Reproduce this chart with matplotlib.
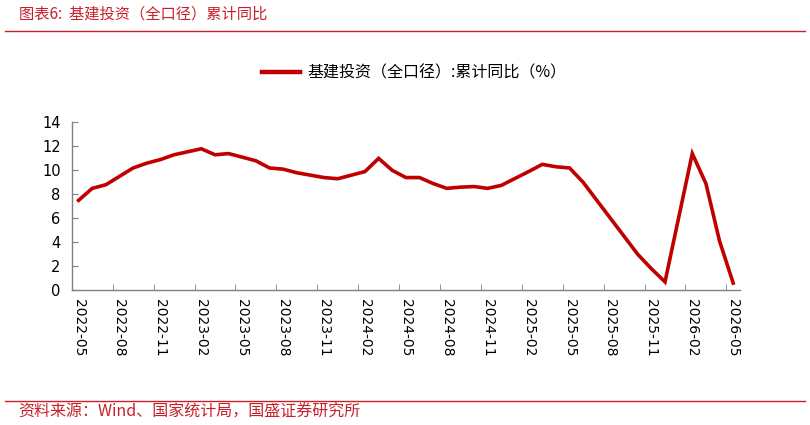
import numpy as np
import pandas as pd
import matplotlib
matplotlib.use("Agg")
import matplotlib.pyplot as plt
from matplotlib.lines import Line2D

plt.rcParams['font.family'] = ['Noto Sans CJK SC', 'DejaVu Sans']

# monthly cumulative yoy, January not published (Jan-Feb combined)
months = ['2022-05', '2022-06', '2022-07', '2022-08', '2022-09', '2022-10', '2022-11', '2022-12',
          '2023-02', '2023-03', '2023-04', '2023-05', '2023-06', '2023-07', '2023-08', '2023-09',
          '2023-10', '2023-11', '2023-12',
          '2024-02', '2024-03', '2024-04', '2024-05', '2024-06', '2024-07', '2024-08', '2024-09',
          '2024-10', '2024-11', '2024-12',
          '2025-02', '2025-03', '2025-04', '2025-05', '2025-06', '2025-07', '2025-08', '2025-09',
          '2025-10', '2025-11', '2025-12',
          '2026-02', '2026-03', '2026-04', '2026-05']
values = [7.5, 8.5, 8.8, 9.5, 10.2, 10.6, 10.9, 11.3,
          11.8, 11.3, 11.4, 11.1, 10.8, 10.2, 10.1, 9.8,
          9.6, 9.4, 9.3,
          9.9, 11.0, 10.0, 9.4, 9.4, 8.9, 8.5, 8.6,
          8.65, 8.5, 8.75,
          9.9, 10.5, 10.3, 10.2, 9.0, 7.5, 6.0, 4.5,
          3.0, 1.8, 0.7,
          11.4, 8.9, 4.1, 0.6]
tick_labels = ['2022-05', '2022-08', '2022-11', '2023-02', '2023-05', '2023-08', '2023-11',
               '2024-02', '2024-05', '2024-08', '2024-11', '2025-02', '2025-05', '2025-08',
               '2025-11', '2026-02', '2026-05']

series_name = '基建投资（全口径）:累计同比（%）'
title = '图表6:  基建投资（全口径）累计同比'
source = '资料来源：Wind、国家统计局，国盛证券研究所'

RED = '#c00000'
TXT_RED = '#c8202a'
GRAY = '#808080'


def month_pos(s):
    p = pd.Period(s, freq='M')
    return (p.year - 2022) * 12 + p.month - 5


x = np.array([month_pos(m) for m in months])
tick_pos = np.array([month_pos(m) for m in tick_labels])

fig = plt.figure(figsize=(8.1, 4.25), dpi=100)
ax = fig.add_axes([0.0886, 0.317, 0.825, 0.395])

ax.plot(x, values, color=RED, lw=2.6, solid_joinstyle='miter')

ax.set_xlim(-0.5, 48.5)
ax.set_ylim(0, 14)
ax.set_yticks(range(0, 15, 2))
ax.set_xticks(tick_pos)
ax.set_xticklabels(tick_labels, rotation=270, fontsize=10, family=['DejaVu Sans'])
ax.set_xticks(tick_pos - 0.5, minor=True)
ax.tick_params(axis='x', which='major', length=0, pad=6)
ax.tick_params(axis='x', which='minor', direction='in', length=4, color=GRAY)
ax.tick_params(axis='y', direction='in', length=4, color=GRAY, pad=8, labelsize=10.5)
for lab in ax.get_yticklabels():
    lab.set_family(['DejaVu Sans'])

for s in ['top', 'right']:
    ax.spines[s].set_visible(False)
for s in ['left', 'bottom']:
    ax.spines[s].set_color(GRAY)
    ax.spines[s].set_linewidth(1.0)

handle = Line2D([], [], color=RED, lw=3.2)
fig.legend([handle], [series_name], loc='center', bbox_to_anchor=(0.511, 0.828),
           frameon=False, fontsize=11.5, handlelength=2.4, handletextpad=0.45)

fig.text(0.024, 0.968, title, color=TXT_RED, fontsize=11, ha='left', va='center',
         style='italic')
fig.add_artist(Line2D([0.006, 0.994], [0.927, 0.927], color=TXT_RED, lw=1.0))
fig.add_artist(Line2D([0.006, 0.994], [0.056, 0.056], color=TXT_RED, lw=1.0))
fig.text(0.022, 0.030, source, color=TXT_RED, fontsize=11.5, ha='left', va='center',
         style='italic')

fig.savefig('out.png', dpi=100)
